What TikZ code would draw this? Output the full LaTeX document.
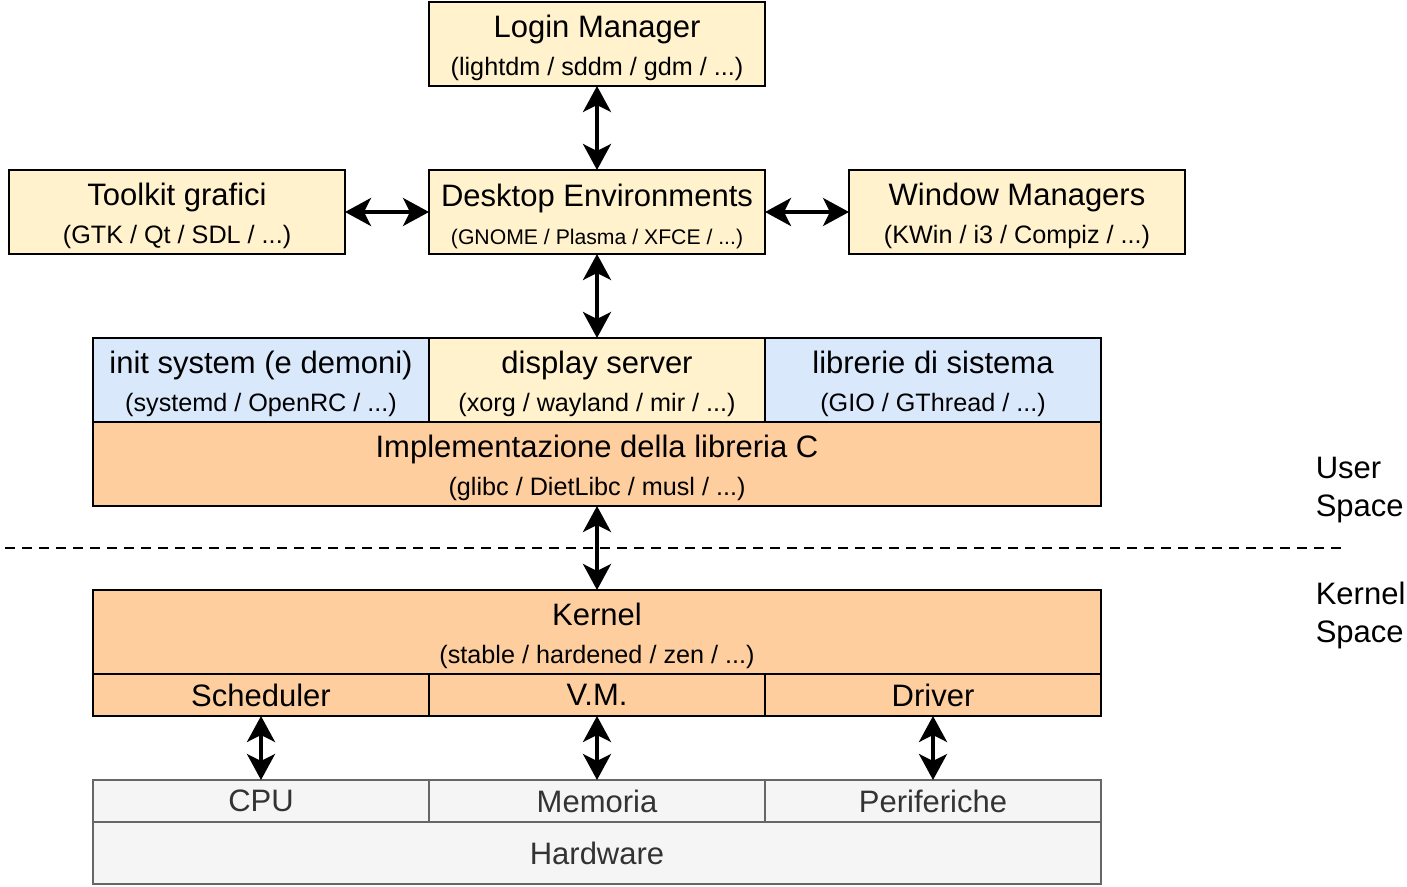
\documentclass[tikz,border=0pt]{standalone}
\usepackage{fontspec}
\setmainfont{Liberation Sans}
\usepackage{xcolor}
\definecolor{colorApp}{HTML}{FFF2CC}
\definecolor{colorSys}{HTML}{DAE8FC}
\definecolor{colorCore}{HTML}{FFCE9F}
\definecolor{colorHw}{HTML}{F5F5F5}
\definecolor{colorHwLine}{HTML}{666666}
\definecolor{colorHwText}{HTML}{333333}
\usepackage{tikz}
\usetikzlibrary{arrows.meta, positioning}
\tikzset{
  layer/.style={draw=black, line width=1pt, outer sep=0pt, inner sep=0pt, minimum width=168pt, minimum height=42pt, align=center, font=\fontsize{15.5}{19}\selectfont},
  appbox/.style={layer, fill=colorApp},
  sysbox/.style={layer, fill=colorSys},
  corebox/.style={layer, fill=colorCore},
  hwbox/.style={layer, fill=colorHw, draw=colorHwLine, text=colorHwText},
  wide/.style={minimum width=504pt},
  slim/.style={minimum height=21pt},
  sidelabel/.style={align=left, anchor=west, inner sep=0pt, font=\fontsize{15.5}{19}\selectfont},
}
\newcommand{\subtext}[1]{{\fontsize{12.6}{19}\selectfont #1}}
\newcommand{\subsmall}[1]{{\fontsize{10.6}{19}\selectfont #1}}
\newcommand{\toprule}{\rule{0pt}{15.5pt}}

\begin{document}
\begin{tikzpicture}[x=0.5pt, y=-0.5pt, >={Stealth[length=13pt, width=14pt, inset=3.5pt]}, line width=1.8pt, node distance=42pt]
\useasboundingbox (0,0) rectangle (1407,887);
% user space
\node[appbox] (desktop) at (597,212) {\toprule Desktop Environments\\\subsmall{(GNOME / Plasma / XFCE / ...)}};
\node[appbox, above=of desktop] (login) {\toprule Login Manager\\\subtext{(lightdm / sddm / gdm / ...)}};
\node[appbox, left=of desktop] (toolkit) {\toprule Toolkit grafici\\\subtext{(GTK / Qt / SDL / ...)}};
\node[appbox, right=of desktop] (wm) {\toprule Window Managers\\\subtext{(KWin / i3 / Compiz / ...)}};
\node[appbox, below=of desktop] (display) {\toprule display server\\\subtext{(xorg / wayland / mir / ...)}};
\node[sysbox, left=0pt of display] (init) {\toprule init system (e demoni)\\\subtext{(systemd / OpenRC / ...)}};
\node[sysbox, right=0pt of display] (libs) {\toprule librerie di sistema\\\subtext{(GIO / GThread / ...)}};
\node[corebox, wide, below=0pt of display] (libc) {\toprule Implementazione della libreria C\\\subtext{(glibc / DietLibc / musl / ...)}};
% kernel space
\node[corebox, wide, below=of libc] (kernel) {\toprule Kernel\\\subtext{(stable / hardened / zen / ...)}};
\node[corebox, slim, below=0pt of kernel] (vm) {V.M.};
\node[corebox, slim, left=0pt of vm] (sched) {Scheduler};
\node[corebox, slim, right=0pt of vm] (driver) {Driver};
% hardware
\node[hwbox, slim, below=32pt of vm] (mem) {Memoria};
\node[hwbox, slim, left=0pt of mem] (cpu) {CPU};
\node[hwbox, slim, right=0pt of mem] (periph) {Periferiche};
\node[hwbox, wide, minimum height=31pt, below=0pt of mem] (hw) {Hardware};
\draw [line width=1pt, dash pattern=on 5pt off 3.5pt] (5,548) -- (1347,548);
\node[sidelabel] (user) at (1314,490) {User\\Space};
\node[sidelabel] (kspace) at (1314,615) {Kernel\\Space};
\draw [<->] (login) -- (desktop);
\draw [<->] (toolkit) -- (desktop);
\draw [<->] (desktop) -- (wm);
\draw [<->] (desktop) -- (display);
\draw [<->] (libc) -- (kernel);
\draw [<->] (sched) -- (cpu);
\draw [<->] (vm) -- (mem);
\draw [<->] (driver) -- (periph);
\end{tikzpicture}
\end{document}
